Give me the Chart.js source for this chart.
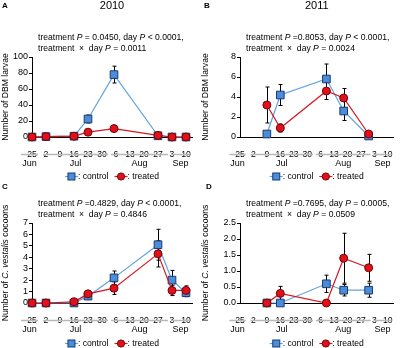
<!DOCTYPE html>
<html>
<head>
<meta charset="utf-8">
<script src="https://cdn.jsdelivr.net/npm/chart.js@4.4.0/dist/chart.umd.min.js"></script>
<style>
body { margin: 0; background: #fff; }
#wrap { position: relative; width: 400px; height: 348px; }
canvas { position: absolute; }
</style>
</head>
<body>
<div id="wrap">
<canvas id="cA" width="200" height="182" style="left:0;top:0"></canvas>
<canvas id="cB" width="200" height="182" style="left:200px;top:0"></canvas>
<canvas id="cC" width="200" height="174" style="left:0;top:174px"></canvas>
<canvas id="cD" width="200" height="174" style="left:200px;top:174px"></canvas>
</div>
<script>
// x axis: days counted from 25 Jun
const tickDays = [0, 7, 14, 21, 28, 35, 42, 49, 56, 63, 70, 77];
const tickLabels = ['25', '2', '9', '16', '23', '30', '6', '13', '20', '27', '3', '10'];
const monthNames = ['Jun', 'Jul', 'Aug', 'Sep'];
const monthFrom = [-5.5, 5.5, 39.5, 69.5];
const monthTo = [3, 38, 68, 79];

// A - 2010 DBM larvae
const daysA = [0, 7, 21, 28, 41, 63, 70, 77];
const controlA = [0, 0.5, 1, 22.5, 78, 1.5, 0, 0];
const controlErrA = [0, 0.3, 0.5, 5, 10.5, 1, 0, 0];
const treatedA = [0, 0.5, 1, 6, 10.5, 2, 0, 0];
const treatedErrA = [0, 0.3, 0.5, 1.5, 3.5, 1, 0, 0];

// B - 2011 DBM larvae
const daysB = [14, 21, 45, 54, 67];
const controlB = [0.3, 4.2, 5.8, 2.6, 0.1];
const controlErrB = [0.2, 1.05, 1.5, 0.95, 0.1];
const treatedB = [3.2, 0.9, 4.6, 3.9, 0.3];
const treatedErrB = [1.8, 0.4, 0.85, 0.95, 0.15];

// C - 2010 cocoons
const daysC = [0, 7, 21, 28, 41, 63, 70, 77];
const controlC = [0, 0, 0, 0.6, 2.2, 5.1, 2.0, 0.9];
const controlErrC = [0, 0, 0, 0.15, 0.6, 1.35, 0.85, 0.35];
const treatedC = [0, 0, 0.1, 0.8, 1.3, 4.3, 1.1, 1.1];
const treatedErrC = [0, 0, 0.05, 0.2, 0.55, 1.15, 0.45, 0.4];

// D - 2011 cocoons
const daysD = [14, 21, 45, 54, 67];
const controlD = [0, 0, 0.6, 0.4, 0.4];
const controlErrD = [0, 0, 0.27, 0.18, 0.22];
const treatedD = [0, 0.3, 0, 1.4, 1.1];
const treatedErrD = [0, 0.22, 0, 0.78, 0.42];

const FONT = "'Liberation Sans', Arial, sans-serif";
const blueFill = '#4a8edb', blueEdge = '#1c3a6b', blueLine = '#5ea3e2';
const redFill = '#e3101b', redEdge = '#6a0808', redLine = '#d81620';

Chart.defaults.font.family = FONT;
Chart.defaults.font.size = 9;
Chart.defaults.color = '#000';

function xy(days, vals) {
  return days.map((d, i) => ({x: d, y: vals[i]}));
}

// text with *italic* parts
function drawRich(ctx, str, x, y, size, align) {
  const parts = str.split('*');
  let total = 0;
  parts.forEach((p, i) => {
    ctx.font = (i % 2 ? 'italic ' : '') + size + 'px ' + FONT;
    total += ctx.measureText(p).width;
  });
  let cx = align === 'center' ? x - total / 2 : x;
  ctx.textAlign = 'left';
  parts.forEach((p, i) => {
    ctx.font = (i % 2 ? 'italic ' : '') + size + 'px ' + FONT;
    ctx.fillText(p, cx, y);
    cx += ctx.measureText(p).width;
  });
}

function marker(ctx, style, x, y) {
  ctx.lineWidth = 1;
  if (style === 'rect') {
    ctx.fillStyle = blueFill; ctx.strokeStyle = blueEdge;
    ctx.fillRect(x - 3.5, y - 3.5, 7, 7);
    ctx.strokeRect(x - 3.5, y - 3.5, 7, 7);
  } else {
    ctx.fillStyle = redFill; ctx.strokeStyle = redEdge;
    ctx.beginPath(); ctx.arc(x, y, 3.6, 0, Math.PI * 2); ctx.fill(); ctx.stroke();
  }
}

const panelText = {
  id: 'panelText',
  beforeDatasetsDraw(chart) {
    const ctx = chart.ctx, xs = chart.scales.x, ys = chart.scales.y;
    ctx.save();
    ctx.strokeStyle = '#000';
    ctx.lineWidth = 1;
    chart.data.datasets.forEach(ds => {
      ds.data.forEach((p, i) => {
        const e = ds.err[i];
        if (!e) return;
        const px = Math.round(xs.getPixelForValue(p.x)) + 0.5;
        const top = ys.getPixelForValue(p.y + e);
        const bot = ys.getPixelForValue(Math.max(p.y - e, 0));
        ctx.beginPath();
        ctx.moveTo(px, top); ctx.lineTo(px, bot);
        ctx.moveTo(px - 2, top); ctx.lineTo(px + 2, top);
        ctx.moveTo(px - 2, bot); ctx.lineTo(px + 2, bot);
        ctx.stroke();
      });
    });
    ctx.restore();
  },
  afterDraw(chart, args, o) {
    const ctx = chart.ctx, a = chart.chartArea, xs = chart.scales.x;
    const mid = (a.left + a.right) / 2;
    ctx.save();
    ctx.fillStyle = '#000';
    ctx.textBaseline = 'middle';

    ctx.font = 'bold 8px ' + FONT;
    ctx.textAlign = 'left';
    ctx.fillText(o.letter, o.letterX, o.letterY);
    if (o.title) {
      ctx.font = '11px ' + FONT;
      ctx.textAlign = 'center';
      ctx.fillText(o.title, mid, 6);
    }
    drawRich(ctx, o.lines[0], a.left + 6, a.top - 19, 8.6, 'left');
    drawRich(ctx, o.lines[1], a.left + 6, a.top - 8, 8.6, 'left');

    // y axis title
    ctx.save();
    ctx.translate(6, (a.top + a.bottom) / 2);
    ctx.rotate(-Math.PI / 2);
    drawRich(ctx, o.yTitle, 0, 0, 8.6, 'center');
    ctx.restore();

    // month bands
    const lineY = a.bottom + 17.5, textY = a.bottom + 26.5;
    monthNames.forEach((m, i) => {
      const x1 = xs.getPixelForValue(monthFrom[i]);
      const x2 = xs.getPixelForValue(monthTo[i]);
      ctx.strokeStyle = '#b8b8b8';
      ctx.lineWidth = 1.5;
      ctx.beginPath(); ctx.moveTo(x1, lineY); ctx.lineTo(x2, lineY); ctx.stroke();
      ctx.fillStyle = '#000';
      ctx.font = '9px ' + FONT;
      ctx.textAlign = 'center';
      ctx.fillText(m, (x1 + x2) / 2, textY);
    });

    // legend
    const ly = a.bottom + o.legendGap;
    ctx.font = '8.6px ' + FONT;
    const t1 = ': control', t2 = ': treated';
    const w1 = ctx.measureText(t1).width, w2 = ctx.measureText(t2).width;
    const total = 13 + w1 + 6 + 13 + w2;
    let lx = mid - total / 2;
    ctx.lineWidth = 1.2;
    ctx.strokeStyle = blueLine;
    ctx.beginPath(); ctx.moveTo(lx, ly); ctx.lineTo(lx + 13, ly); ctx.stroke();
    marker(ctx, 'rect', lx + 6.5, ly);
    lx += 13;
    ctx.fillStyle = '#000'; ctx.textAlign = 'left';
    ctx.fillText(t1, lx, ly);
    lx += w1 + 6;
    ctx.lineWidth = 1.2;
    ctx.strokeStyle = redLine;
    ctx.beginPath(); ctx.moveTo(lx, ly); ctx.lineTo(lx + 13, ly); ctx.stroke();
    marker(ctx, 'circle', lx + 6.5, ly);
    lx += 13;
    ctx.fillStyle = '#000';
    ctx.fillText(t2, lx, ly);
    ctx.restore();
  }
};

function makePanel(id, o) {
  const canvas = document.getElementById(id);
  const W = canvas.width, H = canvas.height;
  return new Chart(canvas, {
    type: 'line',
    data: {
      datasets: [{
        label: 'control',
        data: xy(o.days, o.control),
        err: o.controlErr,
        borderColor: blueLine,
        borderWidth: 1.2,
        pointStyle: 'rect',
        pointRadius: 5.4,
        pointBackgroundColor: blueFill,
        pointBorderColor: blueEdge,
        pointBorderWidth: 1,
        clip: false,
        order: 2
      }, {
        label: 'treated',
        data: xy(o.days, o.treated),
        err: o.treatedErr,
        borderColor: redLine,
        borderWidth: 1.2,
        pointStyle: 'circle',
        pointRadius: 4,
        pointBackgroundColor: redFill,
        pointBorderColor: redEdge,
        pointBorderWidth: 1,
        clip: false,
        order: 1
      }]
    },
    options: {
      responsive: false,
      animation: false,
      layout: {padding: {top: o.top, right: W - o.right, left: 0, bottom: 0}},
      plugins: {
        legend: {display: false},
        tooltip: {enabled: false},
        panelText: {
          letter: o.letter, letterX: o.letterX, letterY: o.letterY,
          title: o.title, lines: o.lines, yTitle: o.yTitle, legendGap: o.legendGap
        }
      },
      scales: {
        x: {
          type: 'linear',
          min: 0,
          max: 80,
          afterFit: s => { s.height = H - o.bottom; },
          afterBuildTicks: s => { s.ticks = tickDays.map(v => ({value: v})); },
          grid: {display: false},
          border: {display: true, color: '#000', width: 1},
          ticks: {
            autoSkip: false, maxRotation: 0, padding: 4,
            font: {size: 8.6},
            callback: (v, i) => tickLabels[i]
          }
        },
        y: {
          min: 0,
          max: o.yMax,
          afterFit: s => { s.width = o.left; },
          grid: {drawOnChartArea: false, tickLength: 3, color: '#000'},
          border: {display: true, color: '#000', width: 1},
          ticks: {
            stepSize: o.yStep, padding: 1, autoSkip: false,
            font: {size: 9},
            callback: v => o.yFixed ? v.toFixed(1) : v
          }
        }
      }
    },
    plugins: [panelText]
  });
}

makePanel('cA', {
  days: daysA, control: controlA, controlErr: controlErrA, treated: treatedA, treatedErr: treatedErrA,
  left: 32, right: 192, top: 57, bottom: 137, yMax: 100, yStep: 20,
  letter: 'A', letterX: 2, letterY: 6, title: '2010', legendGap: 39.5,
  lines: ['treatment *P* = 0.0450, day *P* < 0.0001,', 'treatment  \u00d7  day *P* = 0.0011'],
  yTitle: 'Number of DBM larvae'
});
makePanel('cB', {
  days: daysB, control: controlB, controlErr: controlErrB, treated: treatedB, treatedErr: treatedErrB,
  left: 40, right: 200, top: 57, bottom: 137, yMax: 8, yStep: 2,
  letter: 'B', letterX: 4, letterY: 6, title: '2011', legendGap: 39.5,
  lines: ['treatment *P* =0.8053, day *P* < 0.0001,', 'treatment  \u00d7  day *P* = 0.0024'],
  yTitle: 'Number of DBM larvae'
});
makePanel('cC', {
  days: daysC, control: controlC, controlErr: controlErrC, treated: treatedC, treatedErr: treatedErrC,
  left: 32, right: 192, top: 49, bottom: 129, yMax: 7, yStep: 1,
  letter: 'C', letterX: 2, letterY: 13, title: '', legendGap: 40.5,
  lines: ['treatment *P* =0.4829, day *P* < 0.0001,', 'treatment  \u00d7  day *P* = 0.4846'],
  yTitle: 'Number of *C. vestalis* cocoons'
});
makePanel('cD', {
  days: daysD, control: controlD, controlErr: controlErrD, treated: treatedD, treatedErr: treatedErrD,
  left: 40, right: 200, top: 49, bottom: 129, yMax: 2.5, yStep: 0.5, yFixed: true,
  letter: 'D', letterX: 6, letterY: 13, title: '', legendGap: 40.5,
  lines: ['treatment *P* =0.7695, day *P* = 0.0005,', 'treatment  \u00d7  day *P* = 0.0509'],
  yTitle: 'Number of *C. vestalis* cocoons'
});
</script>
</body>
</html>
